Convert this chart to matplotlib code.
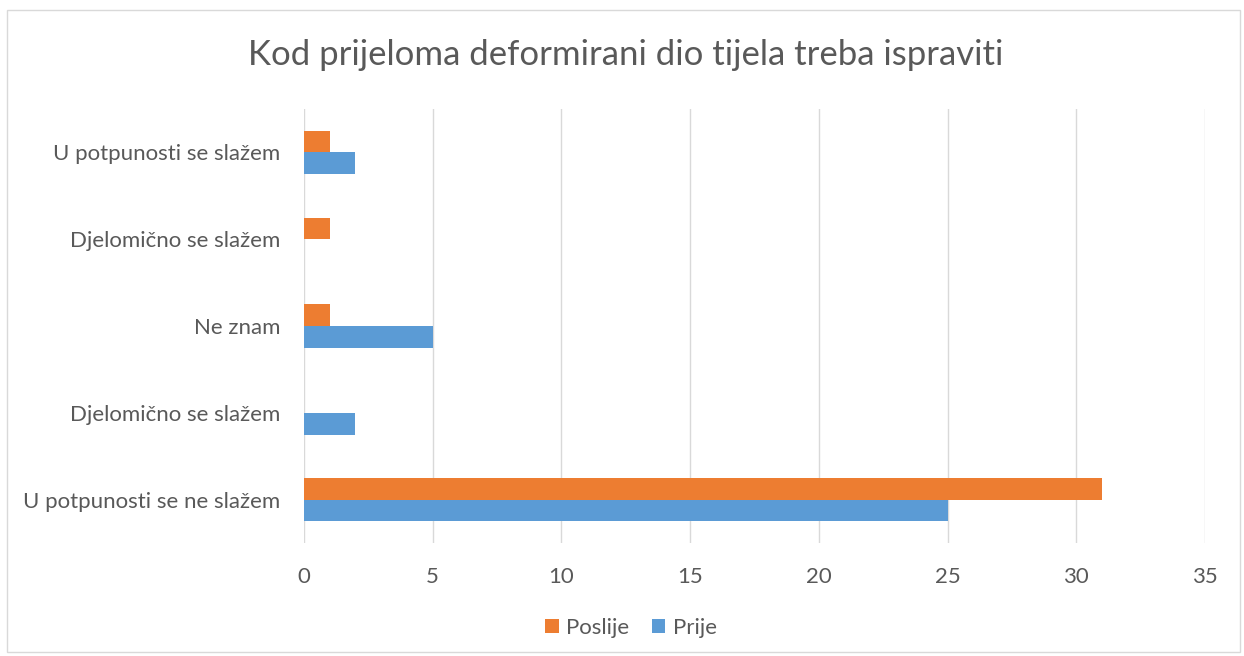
import matplotlib
matplotlib.use("Agg")
import matplotlib.pyplot as plt
from matplotlib.patches import Rectangle
import numpy as np

categories = ["U potpunosti se ne slažem", "Djelomično se slažem", "Ne znam",
              "Djelomično se slažem", "U potpunosti se slažem"]
prije = [25, 2, 5, 0, 2]
poslije = [31, 0, 1, 1, 1]
xticks = [0, 5, 10, 15, 20, 25, 30, 35]

plt.rcParams['font.family'] = ['Lato', 'DejaVu Sans']
text_color = '#595959'
orange = '#ED7D31'
blue = '#5B9BD5'

fig = plt.figure(figsize=(12.44, 6.56), dpi=100)
fig.patches.append(Rectangle((7/1244, 4/656), 1233/1244, 642/656, transform=fig.transFigure,
                             fill=False, edgecolor='#D9D9D9', linewidth=1))
ax = fig.add_axes([304/1244, 1-543/656, 901/1244, 434/656])

y = np.arange(len(categories))
h = 0.25
ax.barh(y + h/2, poslije, height=h, color=orange, label='Poslije', zorder=3)
ax.barh(y - h/2, prije, height=h, color=blue, label='Prije', zorder=3)

ax.set_xlim(0, 35)
ax.set_ylim(-0.5, len(categories) - 0.5)
ax.set_xticks(xticks)
ax.set_yticks(y)
ax.set_yticklabels(categories)
ax.grid(axis='x', color='#D9D9D9', linewidth=1, zorder=0)
for s in ax.spines.values():
    s.set_visible(False)
ax.tick_params(axis='both', length=0, colors=text_color, labelsize=16)
ax.tick_params(axis='x', pad=17)
ax.tick_params(axis='y', pad=17)

fig.text(626/1244, 1-55/656, "Kod prijeloma deformirani dio tijela treba ispraviti",
         ha='center', va='center', fontsize=25, color=text_color)

leg = fig.legend(loc='center', bbox_to_anchor=(631/1244, 1-628/656), ncol=2, frameon=False,
                 fontsize=16, labelcolor=text_color, handlelength=0.6, handleheight=0.6,
                 handletextpad=0.35, columnspacing=1.0)

fig.savefig("out.png", dpi=100)
